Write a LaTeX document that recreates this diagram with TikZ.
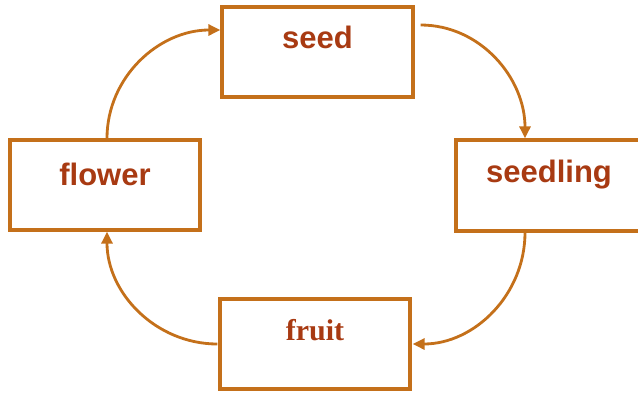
\documentclass[tikz,border=0pt]{standalone}
\usepackage{fontspec}
\setmainfont{Liberation Sans}
\newfontfamily\serifbold{Liberation Serif}
\usetikzlibrary{arrows.meta}
\definecolor{boxline}{RGB}{196,112,26}
\definecolor{txtcol}{RGB}{168,58,18}
\tikzset{
  stagebox/.style={draw=boxline, line width=3.2pt, inner sep=0pt, anchor=base,
    text=txtcol, font=\fontsize{31}{31}\selectfont\bfseries},
  cycarrow/.style={draw=boxline, line width=2.8pt,
    -{Triangle[length=12pt,width=11pt]}}
}
\begin{document}
\begin{tikzpicture}[x=1pt,y=1pt]
\useasboundingbox (0,0) rectangle (638,-392);
\node[stagebox, minimum width=191pt, text height=41pt, text depth=49pt] (seed) at (317.5,-48) {seed};
\node[stagebox, minimum width=190pt, text height=45pt, text depth=45pt] (flower) at (105,-185) {flower};
\node[stagebox, minimum width=186pt, text height=42pt, text depth=49pt] (seedling) at (549,-182) {seedling};
\node[stagebox, minimum width=190pt, text height=41pt, text depth=49pt, font=\fontsize{30}{30}\selectfont\serifbold\bfseries] (fruit) at (315,-340) {fruit};
\draw[cycarrow] ([xshift=2pt]flower.north) to[out=90,in=180] ([yshift=22pt]seed.west);
\draw[cycarrow] ([xshift=6pt,yshift=27pt]seed.east) to[out=0,in=90] ([xshift=-24pt]seedling.north);
\draw[cycarrow] ([xshift=-24pt]seedling.south) to[out=-90,in=0] ([xshift=1pt]fruit.east);
\draw[cycarrow] ([xshift=-1pt]fruit.west) to[out=180,in=-90] ([xshift=2pt]flower.south);
\end{tikzpicture}
\end{document}
